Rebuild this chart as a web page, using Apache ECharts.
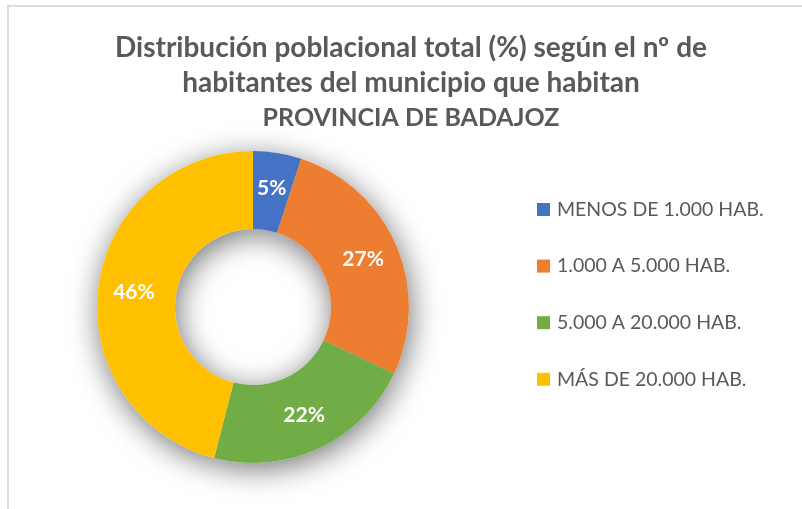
<!DOCTYPE html>
<html>
<head>
<meta charset="utf-8">
<script src="https://cdn.jsdelivr.net/npm/echarts@6/dist/echarts.min.js"></script>
<style>
html,body{margin:0;padding:0;background:#fff;}
#frame{
    position:absolute;
    left:7px;
    top:5px;
    width:820px;
    height:530px;
    border:2px solid #dcdcdc;
    box-sizing:border-box;
}
#chart{
    position:absolute;
    left:0;
    top:0;
    width:802px;
    height:509px;
}
</style>
</head>
<body>
<div id="frame"></div>
<div id="chart"></div>
<script>
// datos
const categorias = ['MENOS DE 1.000 HAB.', '1.000 A 5.000 HAB.', '5.000 A 20.000 HAB.', 'MÁS DE 20.000 HAB.']
const porcentajes = [5, 27, 22, 46]
const colores = ['#4472C4', '#ED7D31', '#70AD47', '#FFC000']
const lineasTitulo = ['Distribución poblacional total (%) según el nº de', 'habitantes del municipio que habitan', 'PROVINCIA DE BADAJOZ']

let myChart = echarts.init(document.getElementById('chart'))
let datos = categorias.map((c, i) => ({ name: c, value: porcentajes[i] }))
let estiloTitulo = {
    fontFamily: 'Lato',
    fontWeight: 'bold',
    fontSize: 28,
    lineHeight: 35,
    color: '#595959'
}
let centro = [253, 307]
let radios = [78, 156]
let option = {
    animation: false,
    color: colores,
    title: {
        text: '{a|' + lineasTitulo[0] + '}\n{a|' + lineasTitulo[1] + '}\n{b|' + lineasTitulo[2] + '}',
        left: 411,
        top: 30,
        padding: 0,
        textAlign: 'center',
        textStyle: {
            ...estiloTitulo,
            rich: {
                a: { ...estiloTitulo },
                b: { ...estiloTitulo, fontSize: 25 }
            }
        }
    },
    legend: {
        orient: 'vertical',
        left: 537,
        top: 199.5,
        padding: 0,
        itemWidth: 13,
        itemHeight: 13,
        itemGap: 36.6,
        icon: 'rect',
        textStyle: {
            fontFamily: 'Lato',
            fontSize: 19.5,
            lineHeight: 20,
            color: '#595959',
            padding: [0, 0, 0, 2]
        },
        data: categorias
    },
    series: [
        {
            type: 'pie',
            z: 3,
            center: centro,
            radius: radios,
            startAngle: 90,
            clockwise: true,
            silent: true,
            itemStyle: {
                borderWidth: 0
            },
            label: {
                show: true,
                position: 'inside',
                formatter: '{c}%',
                color: '#fff',
                fontFamily: 'Lato',
                fontWeight: 'bold',
                fontSize: 21
            },
            labelLine: { show: false },
            data: datos
        },
        {
            // solo la sombra del anillo, debajo
            type: 'pie',
            z: 1,
            center: centro,
            radius: radios,
            startAngle: 90,
            clockwise: true,
            silent: true,
            itemStyle: {
                color: '#fff',
                borderWidth: 0,
                shadowBlur: 30,
                shadowColor: 'rgba(0,0,0,0.55)',
                shadowOffsetX: 2,
                shadowOffsetY: 6
            },
            emphasis: { disabled: true },
            label: { show: false },
            labelLine: { show: false },
            data: datos
        }
    ]
}
myChart.setOption(option)
window.addEventListener('resize', () => {
    myChart.resize()
})
</script>
</body>
</html>
